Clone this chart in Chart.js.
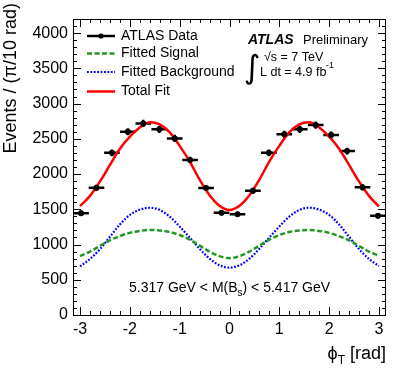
<!DOCTYPE html>
<html>
<head>
<meta charset="utf-8">
<script src="https://cdn.jsdelivr.net/npm/chart.js@4.4.1/dist/chart.umd.min.js"></script>
<style>
  html,body{margin:0;padding:0;background:#fff}
  #chart{display:block}
</style>
</head>
<body>
<canvas id="chart" width="407" height="377"></canvas>
<script>
// --- values ---
const binCenters = [-2.98,-2.67,-2.36,-2.04,-1.73,-1.41,-1.10,-0.79,-0.47,-0.16,
                     0.16,0.47,0.79,1.10,1.41,1.73,2.04,2.36,2.67,2.98];
const binHalfWidth = 0.157;
const dataCounts = [1445,1806,2302,2600,2719,2634,2506,2199,1801,1451,
                    1428,1763,2302,2563,2634,2695,2553,2326,1811,1408];
const dataErrors = [38,42,48,51,52,51,50,47,42,38,38,42,48,51,51,52,51,48,43,38];

const fitX = [-3.0,-2.8,-2.6,-2.4,-2.2,-2.0,-1.8,-1.6,-1.4,-1.2,-1.0,-0.8,-0.6,-0.4,-0.2,0,
              0.2,0.4,0.6,0.8,1.0,1.2,1.4,1.6,1.8,2.0,2.2,2.4,2.6,2.8,3.0];
const totalFit = [1545,1690,1895,2130,2360,2530,2660,2735,2705,2590,2400,2180,1920,1700,1550,1490,
                  1550,1700,1920,2180,2400,2590,2705,2735,2660,2530,2360,2130,1895,1690,1540];
const signalFit = [835,900,980,1060,1120,1165,1193,1206,1200,1178,1135,1070,985,900,835,806,
                   835,900,985,1070,1135,1178,1200,1206,1193,1165,1120,1060,980,900,840];
const bkgFit = [690,795,935,1110,1285,1420,1495,1522,1490,1395,1255,1100,940,800,705,672,
                705,800,940,1100,1255,1395,1490,1522,1495,1420,1285,1110,935,795,695];

const xTicks = [-3,-2,-1,0,1,2,3];
const yTicks = [0,500,1000,1500,2000,2500,3000,3500,4000];

const FONT = '"Liberation Sans", Arial, Helvetica, sans-serif';
const GREEN = '#1f9a1f';

const pts = (xs, ys) => xs.map((x,i)=>({x, y: ys[i]}));

// frame, inner ticks, error bars, legend and labels (ROOT look)
const decor = {
  id: 'decor',
  beforeDatasetsDraw(chart){
    const {ctx, scales:{x,y}} = chart;
    ctx.save();
    ctx.strokeStyle = '#000'; ctx.lineWidth = 2.5;
    binCenters.forEach((c,i)=>{
      const yp = y.getPixelForValue(dataCounts[i]);
      ctx.beginPath();
      ctx.moveTo(x.getPixelForValue(c-binHalfWidth), yp);
      ctx.lineTo(x.getPixelForValue(c+binHalfWidth), yp);
      ctx.moveTo(x.getPixelForValue(c), y.getPixelForValue(dataCounts[i]-dataErrors[i]));
      ctx.lineTo(x.getPixelForValue(c), y.getPixelForValue(dataCounts[i]+dataErrors[i]));
      ctx.stroke();
    });
    ctx.restore();
  },
  afterDraw(chart){
    const {ctx, chartArea:a, scales:{x,y}} = chart;
    ctx.save();
    // frame
    ctx.strokeStyle = '#000'; ctx.lineWidth = 1;
    ctx.strokeRect(Math.round(a.left)+0.5, Math.round(a.top)+0.5,
                   Math.round(a.right-a.left)-1, Math.round(a.bottom-a.top));
    // ticks inside on all four sides
    ctx.beginPath();
    for(let v=0; v<=4200; v+=100){
      const yp = Math.round(y.getPixelForValue(v))+0.5;
      const len = v%500===0 ? 8 : 4;
      ctx.moveTo(a.left, yp); ctx.lineTo(a.left+len, yp);
      ctx.moveTo(a.right, yp); ctx.lineTo(a.right-len, yp);
    }
    for(let i=-15; i<=15; i++){
      const xp = Math.round(x.getPixelForValue(i/5))+0.5;
      const len = i%5===0 ? 8 : 4;
      ctx.moveTo(xp, a.bottom); ctx.lineTo(xp, a.bottom-len);
      ctx.moveTo(xp, a.top); ctx.lineTo(xp, a.top+len);
    }
    ctx.stroke();

    ctx.fillStyle = '#000';
    ctx.textBaseline = 'middle';
    ctx.textAlign = 'left';

    // legend
    const lx0 = 87, lx1 = 115, tx = 121;
    const rows = [36, 53.5, 72, 91.5];
    ctx.font = '14px ' + FONT;
    // ATLAS Data
    ctx.lineWidth = 2.5; ctx.strokeStyle = '#000';
    ctx.beginPath(); ctx.moveTo(lx0, rows[0]); ctx.lineTo(lx1, rows[0]); ctx.stroke();
    ctx.beginPath(); ctx.arc((lx0+lx1)/2, rows[0], 2.6, 0, Math.PI*2); ctx.fill();
    ctx.fillText('ATLAS Data', tx, rows[0]);
    // signal
    ctx.strokeStyle = GREEN; ctx.lineWidth = 2.5; ctx.setLineDash([5,2.5]);
    ctx.beginPath(); ctx.moveTo(lx0, rows[1]); ctx.lineTo(lx1, rows[1]); ctx.stroke();
    ctx.fillText('Fitted Signal', tx, rows[1]);
    // background
    ctx.strokeStyle = '#0000ff'; ctx.lineWidth = 2.2; ctx.setLineDash([1.8,1.6]);
    ctx.beginPath(); ctx.moveTo(lx0, rows[2]); ctx.lineTo(lx1, rows[2]); ctx.stroke();
    ctx.fillText('Fitted Background', tx, rows[2]);
    // total
    ctx.strokeStyle = '#ff0000'; ctx.lineWidth = 2.5; ctx.setLineDash([]);
    ctx.beginPath(); ctx.moveTo(lx0, rows[3]); ctx.lineTo(lx1, rows[3]); ctx.stroke();
    ctx.fillText('Total Fit', tx, rows[3]);

    // ATLAS Preliminary
    ctx.font = 'italic bold 14px ' + FONT;
    ctx.fillText('ATLAS', 248, 40);
    ctx.font = '13px ' + FONT;
    ctx.fillText('Preliminary', 303, 40);
    // luminosity
    ctx.font = '32px "DejaVu Sans", sans-serif';
    ctx.textAlign = 'center';
    ctx.fillText('\u222B', 252, 70);
    ctx.textAlign = 'left';
    ctx.font = '12.5px ' + FONT;
    ctx.fillText('\u221As = 7 TeV', 264, 58);
    ctx.fillText('L dt = 4.9 fb', 260, 73);
    ctx.font = '9px ' + FONT;
    ctx.fillText('-1', 326, 65.5);

    // mass window
    let mx = 129; const my = 288;
    ctx.font = '14px ' + FONT;
    ctx.fillText('5.317 GeV < M(B', mx, my);
    mx += ctx.measureText('5.317 GeV < M(B').width;
    ctx.font = '10px ' + FONT;
    ctx.fillText('s', mx, my+5);
    mx += ctx.measureText('s').width;
    ctx.font = '14px ' + FONT;
    ctx.fillText(') < 5.417 GeV', mx, my);

    // x title, right aligned
    ctx.font = '18px ' + FONT;
    const w1 = ctx.measureText('\u03D5').width;
    const w3 = ctx.measureText(' [rad]').width;
    ctx.font = '12px ' + FONT;
    const w2 = ctx.measureText('T').width;
    let px = 386 - (w1+w2+w3);
    ctx.font = '18px ' + FONT;
    ctx.fillText('\u03D5', px, 354); px += w1;
    ctx.font = '12px ' + FONT;
    ctx.fillText('T', px, 361); px += w2;
    ctx.font = '18px ' + FONT;
    ctx.fillText(' [rad]', px, 354);

    // y title, rotated, right aligned to the top
    ctx.translate(11, 3);
    ctx.rotate(-Math.PI/2);
    ctx.textAlign = 'right';
    ctx.font = '18px ' + FONT;
    ctx.fillText('Events / (\u03C0/10 rad)', 0, 0);
    ctx.restore();
  }
};

new Chart(document.getElementById('chart'), {
  type: 'line',
  data: {
    datasets: [
      {label:'ATLAS Data', data: pts(binCenters, dataCounts), showLine:false,
       pointRadius:3, pointBackgroundColor:'#000', pointBorderColor:'#000', borderWidth:0, order:0},
      {label:'Total Fit', data: pts(fitX, totalFit), borderColor:'#ff0000', borderWidth:2.5,
       pointRadius:0, cubicInterpolationMode:'monotone', order:1},
      {label:'Fitted Signal', data: pts(fitX, signalFit), borderColor:GREEN, borderWidth:2.5,
       borderDash:[5,2.5], pointRadius:0, cubicInterpolationMode:'monotone', order:2},
      {label:'Fitted Background', data: pts(fitX, bkgFit), borderColor:'#0000ff', borderWidth:2.2,
       borderDash:[1.8,1.6], pointRadius:0, cubicInterpolationMode:'monotone', order:3}
    ]
  },
  options: {
    responsive:false, animation:false, events:[],
    layout:{padding:{top:19, right:21, left:0, bottom:0}},
    plugins:{legend:{display:false}, tooltip:{enabled:false}},
    scales:{
      x:{type:'linear', min:-Math.PI, max:Math.PI,
         grid:{display:false, drawTicks:false}, border:{display:false},
         afterBuildTicks: s => { s.ticks = xTicks.map(v=>({value:v})); },
         afterFit: s => { s.height = 62; },
         ticks:{color:'#000', font:{family:FONT, size:16}, padding:5,
                autoSkip:false, maxRotation:0, callback: v => String(v)}},
      y:{type:'linear', min:0, max:4200,
         grid:{display:false, drawTicks:false}, border:{display:false},
         afterBuildTicks: s => { s.ticks = yTicks.map(v=>({value:v})); },
         afterFit: s => { s.width = 73; },
         ticks:{color:'#000', font:{family:FONT, size:16}, padding:5, callback: v => String(v)}}
    }
  },
  plugins:[decor]
});
</script>
</body>
</html>
